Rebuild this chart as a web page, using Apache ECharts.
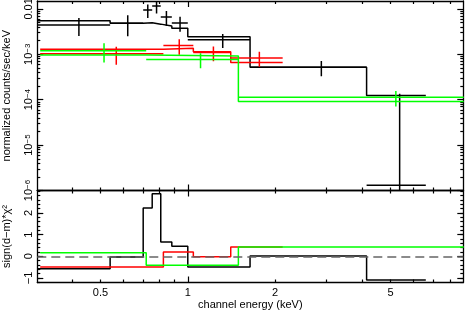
<!DOCTYPE html>
<html><head><meta charset="utf-8">
<script src="https://cdn.jsdelivr.net/npm/echarts@6/dist/echarts.min.js"></script>
<style>html,body{margin:0;padding:0;background:#fff}#c{width:465px;height:311px}</style>
</head><body><div id="c"></div><script>
// ---- data (energies in keV) ----
const blackLo    = [0.303, 0.540, 0.702, 0.754, 0.807, 0.881, 1.000, 1.639, 4.132];
const blackHi    = [0.540, 0.702, 0.754, 0.807, 0.881, 1.000, 1.639, 4.132, 6.61];
const blackData  = [4.4e-3, 4.85e-3, 9.4e-3, 1.15e-2, 6.6e-3, 4.9e-3, 2.08e-3, 5.2e-4, 1.3e-6];
const blackErr   = [1.87e-3, 2.35e-3, 3.1e-3, 3.6e-3, 2.4e-3, 1.78e-3, 7.1e-4, 1.9e-4, 1.33e-4];
const blackModel = [5.46e-3, 4.85e-3, 4.93e-3, 4.61e-3, 4.18e-3, 3.72e-3, 2.43e-3, 5.19e-4, 1.24e-4];
const blackResid = [-0.57, -0.03, 2.23, 2.89, 0.66, 0.46, -0.49, 0.01, -1.1];

const redLo    = [0.310, 0.824, 1.045, 1.406];
const redHi    = [0.824, 1.045, 1.406, 2.123];
const redData  = [1.03e-3, 1.56e-3, 1.09e-3, 8.3e-4];
const redErr   = [4.4e-4, 5.8e-4, 3.9e-4, 3.0e-4];
const redModel = [1.29e-3, 1.35e-3, 1.13e-3, 6.55e-4];
const redResid = [-0.49, 0.2, -0.02, 0.43];

const greenLo    = [0.310, 0.719, 1.494];
const greenHi    = [0.719, 1.494, 8.93];
const greenData  = [1.2e-3, 7.7e-4, 1.13e-4];
const greenErr   = [5.4e-4, 2.8e-4, 4.2e-5];
const greenModel = [9.66e-4, 9.18e-4, 9.12e-5];
const greenResid = [0.17, -0.41, 0.43];

// ---- axes / ticks ----
const X_MIN = 0.303, X_MAX = 8.9;
const Y_MIN = 1e-6, Y_MAX = 0.0149;
const R_MIN = -1.21, R_MAX = 3.04;
const xLabelVals = [0.5, 1, 2, 5];
const xMajorTicks = [1];
const xMinorTicks = [0.4, 0.5, 0.6, 0.7, 0.8, 0.9, 2, 3, 4, 5, 6, 7, 8];
const yDecades = [1e-6, 1e-5, 1e-4, 1e-3, 1e-2];
const rLabelVals = [-1, 0, 1, 2];

const yMinorTicks = [];
[-6, -5, -4, -3, -2].forEach(p => { for (let k = 2; k <= 9; k++) yMinorTicks.push(k * Math.pow(10, p)); });
const rMinorTicks = [];
for (let v = -1.2; v <= 3.0001; v += 0.2) rMinorTicks.push(Math.round(v * 10) / 10);

const FONT = "'Liberation Sans', Arial, Helvetica, sans-serif";
const LC = '#000';

const GL = 37.3, GW = 426;
const gTop = { left: GL, top: 1, width: GW, height: 189.5, containLabel: false, outerBoundsMode: 'none' };
const gBot = { left: GL, top: 190.5, width: GW, height: 92, containLabel: false, outerBoundsMode: 'none' };

function base(line) {
  return {
    axisLine: { show: line, onZero: false, lineStyle: { color: LC, width: 1.3 } },
    splitLine: { show: false },
    axisLabel: { show: false },
  };
}
function xAx(gi, pos, ticks, len, line, extra) {
  return Object.assign(base(line), {
    type: 'log', logBase: 10, gridIndex: gi, position: pos, min: X_MIN, max: X_MAX,
    axisTick: { show: true, inside: true, length: len, customValues: ticks, lineStyle: { color: LC, width: 1.2 } },
  }, extra || {});
}
function yLogAx(gi, pos, ticks, len, line, extra) {
  return Object.assign(base(line), {
    type: 'log', logBase: 10, gridIndex: gi, position: pos, min: Y_MIN, max: Y_MAX,
    axisTick: { show: true, inside: true, length: len, customValues: ticks, lineStyle: { color: LC, width: 1.2 } },
  }, extra || {});
}
function yLinAx(gi, pos, ticks, len, line, extra) {
  return Object.assign(base(line), {
    type: 'value', gridIndex: gi, position: pos, min: R_MIN, max: R_MAX,
    axisTick: { show: true, inside: true, length: len, customValues: ticks, lineStyle: { color: LC, width: 1.2 } },
  }, extra || {});
}

const supRich = {
  m: { fontSize: 11, fontFamily: FONT, color: LC, lineHeight: 12 },
  e: { fontSize: 8, fontFamily: FONT, color: LC, lineHeight: 8, verticalAlign: 'top' }
};

const xAxes = [
  xAx(0, 'bottom', xMinorTicks, 3, true),
  xAx(0, 'top', xMinorTicks, 3, true),
  xAx(1, 'bottom', xMinorTicks, 3, true, {
    axisLabel: { show: true, customValues: xLabelVals, margin: 5, color: LC, fontSize: 11, fontFamily: FONT,
      formatter: v => String(+v.toPrecision(3)) },
    name: 'channel energy (keV)', nameLocation: 'middle', nameGap: 16,
    nameTextStyle: { color: LC, fontSize: 11, fontFamily: FONT }
  }),
  xAx(1, 'top', xMinorTicks, 3, true),
  xAx(2, 'bottom', xMajorTicks, 6, false),
  xAx(2, 'top', xMajorTicks, 6, false),
  xAx(3, 'bottom', xMajorTicks, 6, false),
  xAx(3, 'top', xMajorTicks, 6, false),
];
const yAxes = [
  yLogAx(0, 'left', yMinorTicks, 3, true, {
    axisLabel: { show: true, customValues: yDecades, rotate: 90, margin: 2, color: LC, fontSize: 11, fontFamily: FONT,
      rich: supRich,
      formatter: v => {
        const p = Math.round(Math.log10(v));
        if (p === -2) return '{m|0.01}';
        return '{m|10}{e|−' + (-p) + '}';
      } },
    name: 'normalized counts/sec/keV', nameLocation: 'middle', nameGap: 25, nameRotate: 90,
    nameTextStyle: { color: LC, fontSize: 11, fontFamily: FONT }
  }),
  yLogAx(0, 'right', yMinorTicks, 3, true),
  yLinAx(1, 'left', rMinorTicks, 3, true, {
    axisLabel: { show: true, customValues: rLabelVals, rotate: 90, margin: 2, color: LC, fontSize: 11, fontFamily: FONT,
      lineHeight: 12, formatter: v => (v < 0 ? '−' + (-v) : String(v)) },
    name: 'sign(d−m)*χ²', nameLocation: 'middle', nameGap: 25, nameRotate: 90,
    nameTextStyle: { color: LC, fontSize: 11, fontFamily: FONT }
  }),
  yLinAx(1, 'right', rMinorTicks, 3, true),
  yLogAx(2, 'left', yDecades, 6, false),
  yLogAx(2, 'right', yDecades, 6, false),
  yLinAx(3, 'left', rLabelVals, 6, false),
  yLinAx(3, 'right', rLabelVals, 6, false),
];

function stepSeries(lo, hi, vals, color, xi, yi, z) {
  const pts = lo.map((l, i) => [l, vals[i]]);
  pts.push([hi[hi.length - 1], vals[vals.length - 1]]);
  return { type: 'line', xAxisIndex: xi, yAxisIndex: yi, data: pts, step: 'end',
    symbol: 'none', showSymbol: false, clip: true, silent: true, z,
    lineStyle: { color, width: 1.5 } };
}
function crossSeries(lo, hi, vals, errs, color, z) {
  return {
    type: 'custom', xAxisIndex: 0, yAxisIndex: 0, clip: true, silent: true, z,
    data: lo.map((l, i) => [l, hi[i], vals[i], errs[i]]),
    encode: { x: [0, 1], y: [2] },
    renderItem: (p, api) => {
      const l = api.value(0), h = api.value(1), v = api.value(2), e = api.value(3);
      const c = (l + h) / 2;
      const low = v - e > 0 ? v - e : Y_MIN / 10;
      const a = api.coord([l, v]), b = api.coord([h, v]);
      const t = api.coord([c, v + e]), u = api.coord([c, low]);
      const st = { stroke: color, lineWidth: 1.5 };
      return { type: 'group', children: [
        { type: 'line', shape: { x1: a[0], y1: a[1], x2: b[0], y2: b[1] }, style: st },
        { type: 'line', shape: { x1: t[0], y1: t[1], x2: u[0], y2: u[1] }, style: st }
      ] };
    }
  };
}

const series = [
  { type: 'line', xAxisIndex: 2, yAxisIndex: 2, data: [], silent: true, z: 1,
    markLine: { silent: true, symbol: 'none', animation: false, label: { show: false },
      lineStyle: { color: '#666', width: 1.5, type: [9, 5] }, data: [{ yAxis: 0 }] } },
  stepSeries(blackLo, blackHi, blackModel, '#000', 0, 0, 2),
  crossSeries(blackLo, blackHi, blackData, blackErr, '#000', 2),
  stepSeries(redLo, redHi, redModel, '#ff0000', 0, 0, 3),
  crossSeries(redLo, redHi, redData, redErr, '#ff0000', 3),
  stepSeries(greenLo, greenHi, greenModel, '#00ff00', 0, 0, 4),
  crossSeries(greenLo, greenHi, greenData, greenErr, '#00ff00', 4),
  stepSeries(blackLo, blackHi, blackResid, '#000', 2, 2, 2),
  stepSeries(redLo, redHi, redResid, '#ff0000', 2, 2, 3),
  stepSeries(greenLo, greenHi, greenResid, '#00ff00', 2, 2, 4),
];

const chart = echarts.init(document.getElementById('c'), null, { renderer: 'canvas', width: 465, height: 311 });
chart.setOption({
  animation: false,
  backgroundColor: '#fff',
  textStyle: { fontFamily: FONT },
  grid: [gTop, gBot, Object.assign({}, gTop), Object.assign({}, gBot)],
  xAxis: xAxes,
  yAxis: yAxes,
  series
});
</script></body></html>
